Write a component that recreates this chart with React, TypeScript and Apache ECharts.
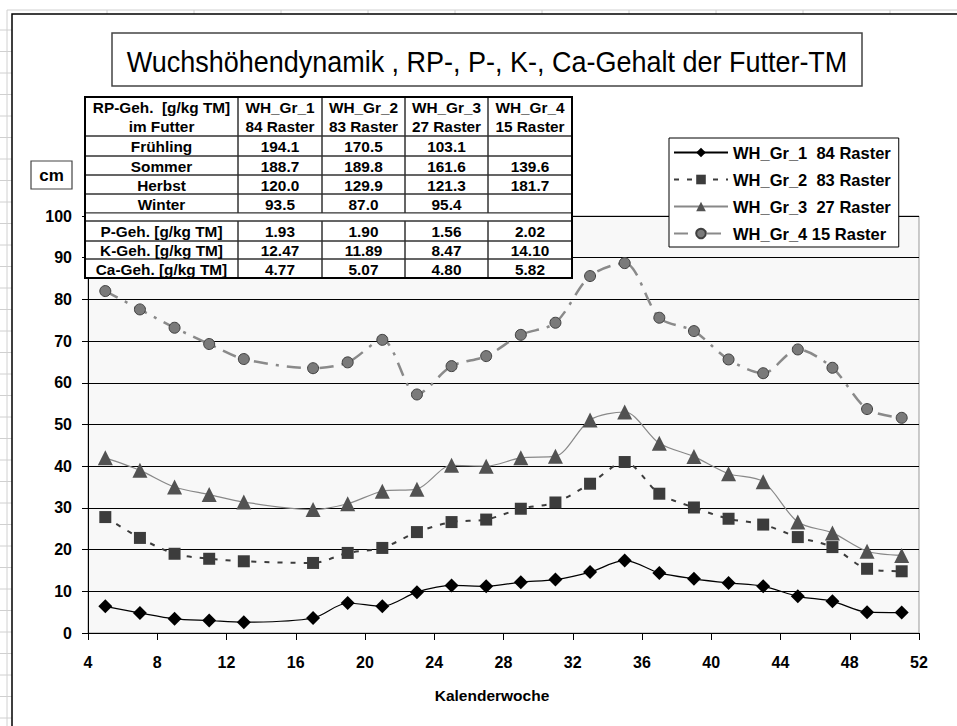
import React, { useEffect, useRef } from "react";
import * as echarts from "echarts";

const weeks = [5, 7, 9, 11, 13, 17, 19, 21, 23, 25, 27, 29, 31, 33, 35, 37, 39, 41, 43, 45, 47, 49, 51];
const gr1 = [6.4, 4.8, 3.4, 3.0, 2.6, 3.6, 7.2, 6.4, 9.8, 11.4, 11.2, 12.2, 12.8, 14.6, 17.4, 14.4, 13.0, 12.0, 11.2, 8.8, 7.6, 5.0, 4.9];
const gr2 = [27.8, 22.8, 19.0, 17.8, 17.2, 16.8, 19.2, 20.4, 24.2, 26.6, 27.2, 29.8, 31.3, 35.8, 41.0, 33.4, 30.1, 27.4, 26.0, 23.0, 20.6, 15.4, 14.8];
const gr3 = [42.0, 39.0, 35.0, 33.2, 31.4, 29.6, 31.0, 34.0, 34.5, 40.2, 40.0, 42.0, 42.4, 51.1, 53.0, 45.5, 42.3, 38.2, 36.3, 26.6, 24.0, 19.6, 18.6];
const gr4 = [82.0, 77.6, 73.2, 69.3, 65.7, 63.5, 64.9, 70.3, 57.2, 64.0, 66.4, 71.5, 74.4, 85.6, 88.7, 75.6, 72.4, 65.6, 62.3, 68.0, 63.6, 53.7, 51.6];

const seriesNames = ["WH_Gr_1  84 Raster", "WH_Gr_2  83 Raster", "WH_Gr_3  27 Raster", "WH_Gr_4 15 Raster"];

const title = "Wuchshöhendynamik , RP-, P-, K-, Ca-Gehalt der Futter-TM";
const yUnit = "cm";
const xTitle = "Kalenderwoche";

const tableHeader = ["RP-Geh.  [g/kg TM]\nim Futter", "WH_Gr_1\n84 Raster", "WH_Gr_2\n83 Raster", "WH_Gr_3\n27 Raster", "WH_Gr_4\n15 Raster"];
const rpRows = [
  ["Frühling", "194.1", "170.5", "103.1", ""],
  ["Sommer", "188.7", "189.8", "161.6", "139.6"],
  ["Herbst", "120.0", "129.9", "121.3", "181.7"],
  ["Winter", "93.5", "87.0", "95.4", ""],
];
const mineralRows = [
  ["P-Geh. [g/kg TM]", "1.93", "1.90", "1.56", "2.02"],
  ["K-Geh. [g/kg TM]", "12.47", "11.89", "8.47", "14.10"],
  ["Ca-Geh. [g/kg TM]", "4.77", "5.07", "4.80", "5.82"],
];

const FONT = "'Liberation Sans', Arial, sans-serif";

function buildTable(): any[] {
  const els: any[] = [];
  const colX = [85, 238, 322, 405, 488, 572];
  const headerTop = 97;
  const headerBottom = 136;
  const rpEdges = [136, 156, 175, 194, 213];
  const minEdges = [221, 241, 259, 278];
  const textStyle = (t: string, cx: number, cy: number) => ({
    type: "text",
    x: cx,
    y: cy,
    z: 101,
    scaleX: 1.06,
    style: { text: t, fill: "#000", font: `bold 14.5px ${FONT}`, align: "center", verticalAlign: "middle", lineHeight: 19 },
  });
  els.push({ type: "rect", z: 100, shape: { x: colX[0], y: headerTop, width: colX[5] - colX[0], height: minEdges[3] - headerTop }, style: { fill: "#fff", stroke: "#000", lineWidth: 1 } });
  for (let c = 0; c < 5; c++) {
    els.push({ type: "rect", z: 100, shape: { x: colX[c], y: headerTop, width: colX[c + 1] - colX[c], height: headerBottom - headerTop }, style: { fill: "none", stroke: "#333", lineWidth: 1 } });
    els.push(textStyle(tableHeader[c], (colX[c] + colX[c + 1]) / 2, (headerTop + headerBottom) / 2 + 1));
  }
  rpRows.forEach((row, r) => {
    for (let c = 0; c < 5; c++) {
      els.push({ type: "rect", z: 100, shape: { x: colX[c], y: rpEdges[r], width: colX[c + 1] - colX[c], height: rpEdges[r + 1] - rpEdges[r] }, style: { fill: "none", stroke: "#333", lineWidth: 1 } });
      els.push(textStyle(row[c], (colX[c] + colX[c + 1]) / 2, (rpEdges[r] + rpEdges[r + 1]) / 2 + 1));
    }
  });
  els.push({ type: "rect", z: 100, shape: { x: colX[0], y: 213, width: colX[5] - colX[0], height: 8 }, style: { fill: "#fff", stroke: "#333", lineWidth: 1 } });
  mineralRows.forEach((row, r) => {
    for (let c = 0; c < 5; c++) {
      els.push({ type: "rect", z: 100, shape: { x: colX[c], y: minEdges[r], width: colX[c + 1] - colX[c], height: minEdges[r + 1] - minEdges[r] }, style: { fill: "none", stroke: "#333", lineWidth: 1 } });
      els.push(textStyle(row[c], (colX[c] + colX[c + 1]) / 2, (minEdges[r] + minEdges[r + 1]) / 2 + 1));
    }
  });
  els.push({ type: "rect", z: 102, shape: { x: colX[0], y: headerTop, width: colX[5] - colX[0], height: minEdges[3] - headerTop }, style: { fill: "none", stroke: "#000", lineWidth: 2 } });
  return els;
}

function buildBackground(): any[] {
  const els: any[] = [];
  els.push({ type: "line", z: -10, shape: { x1: 7, y1: 10, x2: 957, y2: 10 }, style: { stroke: "#d0d0d0", lineWidth: 1 } });
  els.push({ type: "line", z: -10, shape: { x1: 7, y1: 10, x2: 7, y2: 726 }, style: { stroke: "#d0d0d0", lineWidth: 1 } });
  for (let x = 107; x < 957; x += 87) {
    els.push({ type: "line", z: -10, shape: { x1: x, y1: 10, x2: x, y2: 14 }, style: { stroke: "#d0d0d0", lineWidth: 1 } });
  }
  for (let y = 30; y < 726; y += 21.5) {
    els.push({ type: "line", z: -10, shape: { x1: 0, y1: y, x2: 12, y2: y }, style: { stroke: "#d0d0d0", lineWidth: 1 } });
  }
  els.push({ type: "rect", z: -5, shape: { x: 12, y: 14, width: 960, height: 730 }, style: { fill: "#fff", stroke: "#000", lineWidth: 1.5 } });
  els.push({ type: "rect", z: 50, shape: { x: 112, y: 33, width: 750, height: 53 }, style: { fill: "#fff", stroke: "#444", lineWidth: 1.5 } });
  els.push({ type: "text", z: 51, x: 487, y: 61, scaleX: 0.9, style: { text: title, fill: "#000", font: `30px ${FONT}`, align: "center", verticalAlign: "middle" } });
  els.push({ type: "rect", z: 50, shape: { x: 31, y: 161, width: 41, height: 28 }, style: { fill: "#fff", stroke: "#444", lineWidth: 1.2 } });
  els.push({ type: "text", z: 51, x: 51.5, y: 175, style: { text: yUnit, fill: "#000", font: `bold 17px ${FONT}`, align: "center", verticalAlign: "middle" } });
  els.push({ type: "text", z: 51, x: 492, y: 695, style: { text: xTitle, fill: "#000", font: `bold 15.5px ${FONT}`, align: "center", verticalAlign: "middle" } });
  return els;
}

export default function App() {
  const ref = useRef<HTMLDivElement>(null);
  useEffect(() => {
    if (!ref.current) return;
    const chart = echarts.init(ref.current, undefined, { renderer: "svg" });
    const mk = (arr: number[]) => weeks.map((w, i) => [w, arr[i]]);
    chart.setOption({
      animation: false,
      backgroundColor: "#fff",
      textStyle: { fontFamily: FONT },
      grid: { left: 88, right: 38, top: 216, bottom: 93, show: true, backgroundColor: "#f8f8f8", borderColor: "#999", borderWidth: 1 },
      legend: {
        orient: "vertical",
        left: 669,
        top: 138,
        itemWidth: 54,
        itemHeight: 12,
        itemGap: 10,
        padding: [6, 8, 5, 4],
        backgroundColor: "#fff",
        borderColor: "#000",
        borderWidth: 1,
        z: 20,
        textStyle: { fontFamily: FONT, fontWeight: "bold", fontSize: 16.5, color: "#000" },
        data: seriesNames,
      },
      xAxis: {
        type: "value",
        min: 4,
        max: 52,
        interval: 4,
        axisLine: { lineStyle: { color: "#000", width: 1 } },
        axisTick: { show: true, inside: false, length: 7, lineStyle: { color: "#000" } },
        axisLabel: { color: "#000", fontWeight: "bold", fontSize: 16, fontFamily: FONT, margin: 21 },
        splitLine: { show: false },
      },
      yAxis: {
        type: "value",
        min: 0,
        max: 100,
        interval: 10,
        axisLine: { show: true, lineStyle: { color: "#000", width: 1 } },
        axisTick: { show: true, inside: false, length: 6, lineStyle: { color: "#000" } },
        axisLabel: { color: "#000", fontWeight: "bold", fontSize: 16, fontFamily: FONT, margin: 16 },
        splitLine: { show: true, lineStyle: { color: "#000", width: 1 } },
      },
      graphic: [...buildBackground(), ...buildTable()],
      series: [
        {
          name: seriesNames[0],
          type: "line",
          smooth: 0.3,
          data: mk(gr1),
          symbol: "diamond",
          symbolSize: 14,
          itemStyle: { color: "#000" },
          lineStyle: { color: "#000", width: 1.2 },
        },
        {
          name: seriesNames[1],
          type: "line",
          smooth: 0.3,
          data: mk(gr2),
          symbol: "rect",
          symbolSize: 12,
          itemStyle: { color: "#3c3c3c" },
          lineStyle: { color: "#3c3c3c", width: 2, type: [5, 8] },
        },
        {
          name: seriesNames[2],
          type: "line",
          smooth: 0.3,
          data: mk(gr3),
          symbol: "triangle",
          symbolSize: 15,
          itemStyle: { color: "#525252" },
          lineStyle: { color: "#888", width: 1.2 },
        },
        {
          name: seriesNames[3],
          type: "line",
          smooth: 0.3,
          data: mk(gr4),
          symbol: "circle",
          symbolSize: 11,
          itemStyle: { color: "#7a7a7a", borderColor: "#404040", borderWidth: 1 },
          lineStyle: { color: "#8a8a8a", width: 2.5, type: [14, 8, 3, 8] },
        },
      ],
    });
    return () => chart.dispose();
  }, []);
  return <div ref={ref} style={{ width: 957, height: 726, position: "absolute", left: 0, top: 0 }} />;
}
